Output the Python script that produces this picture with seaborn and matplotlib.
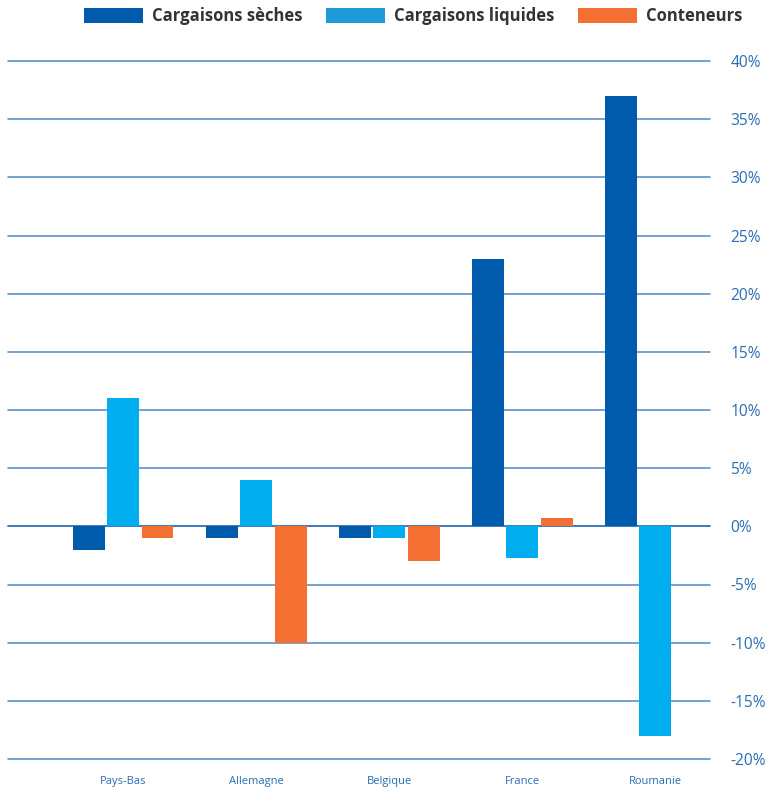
import pandas as pd
import matplotlib.pyplot as plt
import seaborn as sns
from matplotlib.patches import Patch

pays = ['Pays-Bas', 'Allemagne', 'Belgique', 'France', 'Roumanie']
series = ['Cargaisons sèches', 'Cargaisons liquides', 'Conteneurs']
seches = [-2.0, -1.0, -1.0, 23.0, 37.0]
liquides = [11.0, 4.0, -1.0, -2.7, -18.0]
conteneurs = [-1.0, -10.0, -3.0, 0.7, 0.0]
yticks = [-20, -15, -10, -5, 0, 5, 10, 15, 20, 25, 30, 35, 40]

couleurs = ['#005BAC', '#00AEEF', '#F37032']
couleurs_legende = ['#005BAC', '#1E9BD7', '#F37032']

df = pd.DataFrame({'pays': pays * 3,
                   'serie': [s for s in series for _ in pays],
                   'valeur': seches + liquides + conteneurs})

sns.set_style('white')
plt.rcParams['font.family'] = ['Open Sans', 'DejaVu Sans']

fig = plt.figure(figsize=(7.68, 7.87), dpi=100)
ax = fig.add_axes([8 / 768, 1 - 759 / 787, (710 - 8) / 768, (759 - 61) / 787])

sns.barplot(data=df, x='pays', y='valeur', hue='serie', hue_order=series,
            palette=couleurs, width=0.775, gap=0.07, saturation=1,
            linewidth=0, edgecolor='none', legend=False, ax=ax)

ax.set_xlim(-0.865, 4.41)
ax.set_ylim(-20, 40)
ax.set_yticks(yticks)
ax.set_yticklabels([f'{t}%' for t in yticks])
ax.yaxis.tick_right()
ax.tick_params(axis='y', length=0, pad=14.5, labelsize=11.2, labelcolor='#2a6db5')
ax.tick_params(axis='x', length=0, pad=12, labelsize=8, labelcolor='#2a6db5')
for tick in ax.yaxis.get_major_ticks():
    tick.label2.set_horizontalalignment('left')
ax.set_xlabel('')
ax.set_ylabel('')
for t in yticks:
    ax.axhline(t, color='#2f6fb3' if t == 0 else '#4f86c1', lw=1.3 if t == 0 else 1.1,
               zorder=0.5, clip_on=False)
ax.grid(False)
for s in ax.spines.values():
    s.set_visible(False)

handles = [Patch(facecolor=c, edgecolor='none') for c in couleurs_legende]
fig.legend(handles, series, loc='center', bbox_to_anchor=(413 / 768, 1 - 16 / 787),
           ncol=3, frameon=False, handlelength=3.55, handleheight=1.0,
           columnspacing=1.4, handletextpad=0.55,
           prop={'weight': 'bold', 'size': 12}, labelcolor='#333333')

fig.savefig('out.png', dpi=100)
